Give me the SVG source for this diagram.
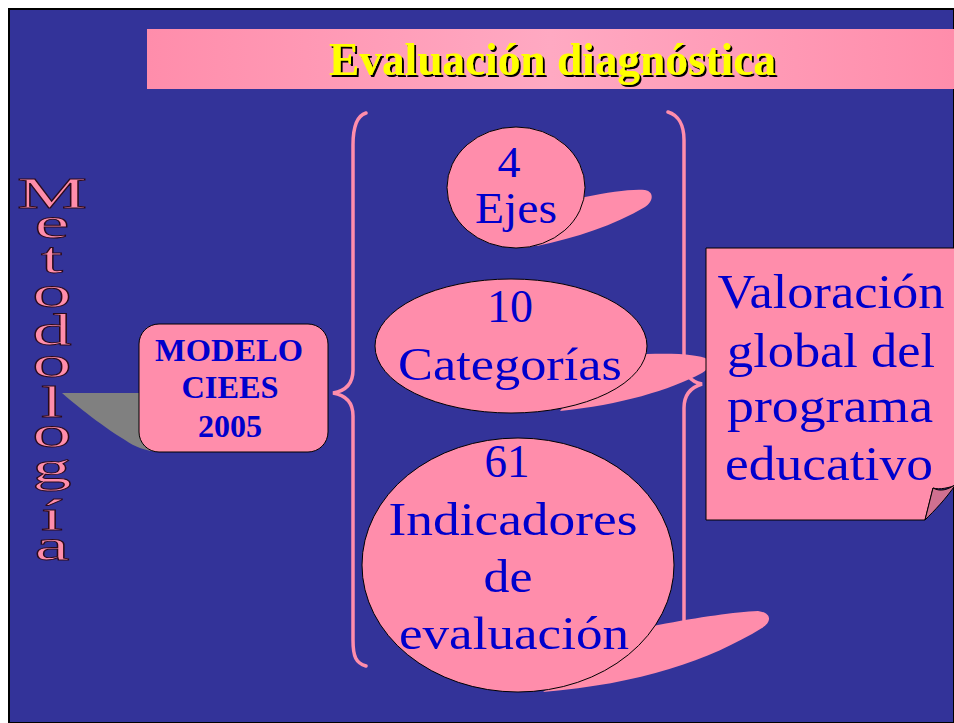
<svg xmlns="http://www.w3.org/2000/svg" width="954" height="723" viewBox="0 0 954 723">
<defs>
<linearGradient id="band" x1="0" y1="0" x2="1" y2="0">
<stop offset="0" stop-color="#FF8DAB"/>
<stop offset="0.5" stop-color="#FFA9C2"/>
<stop offset="1" stop-color="#FF8DAB"/>
</linearGradient>
<filter id="shadow" x="-5%" y="-20%" width="110%" height="140%">
<feOffset in="SourceAlpha" dx="2" dy="2" result="off"/>
<feMerge><feMergeNode in="off"/><feMergeNode in="SourceGraphic"/></feMerge>
</filter>
<style>
.node{fill:#FF8DAB;stroke:#000;stroke-width:1}
.tail{fill:#FF8DAB}
.big{font-family:"Liberation Serif","Times New Roman",serif;fill:#0000CC;text-anchor:middle}
.bold{font-family:"Liberation Serif","Times New Roman",serif;font-weight:bold;font-size:31px;fill:#0000CC;text-anchor:middle}
.brace{fill:none;stroke:#FF8DAB;stroke-width:3.5;stroke-linecap:round}
.meto{font-family:"Liberation Serif","Times New Roman",serif;font-size:45px;fill:#FF8DAB;stroke:#2a0a1a;stroke-width:0.9;text-anchor:middle}
</style>
</defs>
<rect x="0" y="0" width="954" height="723" fill="#fff"/>
<rect x="9" y="9" width="945" height="714" fill="#333399" stroke="#000" stroke-width="2"/>

<g id="title">
<rect x="147" y="29" width="807" height="60" fill="url(#band)"/>
<text x="329" y="75" font-family="Liberation Serif,serif" font-weight="bold" font-size="46" textLength="447" lengthAdjust="spacingAndGlyphs" fill="#FFFF00" filter="url(#shadow)">Evaluación diagnóstica</text>
</g>

<g id="metodologia" transform="translate(52,0) scale(1.75,1)">
<text class="meto" x="0" y="208">M</text>
<text class="meto" x="0" y="238">e</text>
<text class="meto" x="0" y="273">t</text>
<text class="meto" x="0" y="307">o</text>
<text class="meto" x="0" y="345">d</text>
<text class="meto" x="0" y="377">o</text>
<text class="meto" x="0" y="417">l</text>
<text class="meto" x="0" y="447">o</text>
<text class="meto" x="0" y="482">g</text>
<text class="meto" x="0" y="530">í</text>
<text class="meto" x="0" y="560">a</text>
</g>

<g id="connectors">
<path class="brace" d="M366,113 C356,116 353,128 353,145 L353,370 C353,385 345,391 333,393 C345,395 353,401 353,416 L353,640 C353,657 356,663 366,666"/>
<path class="brace" d="M668,112 C678,115 684,125 684,140 L684,360 C684,375 692,382 702,384 C692,387 684,393 684,408 L684,640 C684,655 678,662 668,666"/>
</g>

<g id="modelo">
<path d="M139,393 L62,393 C70,400 100,425 125,440 C135,447 145,451 160,452 Z" fill="#808080"/>
<rect x="139" y="324" width="189" height="128" rx="20" ry="20" class="node" stroke-width="1.3"/>
<text class="bold" x="229" y="361" textLength="148" lengthAdjust="spacingAndGlyphs">MODELO</text>
<text class="bold" x="230" y="398" textLength="97" lengthAdjust="spacingAndGlyphs">CIEES</text>
<text class="bold" x="230" y="437" textLength="64" lengthAdjust="spacingAndGlyphs">2005</text>
</g>

<g id="ejes">
<path class="tail" d="M560,200 L585,197 C610,192 630,189 645,190 C655,192 653,202 645,207 C615,225 575,238 537,246 Z"/>
<ellipse cx="516" cy="187.5" rx="69" ry="60.5" class="node"/>
<text class="big" x="509" y="177" font-size="44" textLength="23" lengthAdjust="spacingAndGlyphs">4</text>
<text class="big" x="516" y="223" font-size="44" textLength="82" lengthAdjust="spacingAndGlyphs">Ejes</text>
</g>

<g id="categorias">
<path class="tail" d="M600,360 L647,354 C680,353 700,355 707,359 C711,365 707,370 702,373 C670,390 620,405 560,411 Z"/>
<ellipse cx="511" cy="346" rx="136" ry="67" class="node"/>
<text class="big" x="510" y="322" font-size="47" textLength="46" lengthAdjust="spacingAndGlyphs">10</text>
<text class="big" x="510" y="380" font-size="47" textLength="224" lengthAdjust="spacingAndGlyphs">Categorías</text>
</g>

<g id="indicadores">
<path class="tail" d="M630,630 L658,625 C700,617 735,612 758,611 C772,613 772,622 762,628 C710,660 640,684 543,692 Z"/>
<ellipse cx="518" cy="565" rx="156" ry="127" class="node"/>
<text class="big" x="507" y="477" font-size="47" textLength="45" lengthAdjust="spacingAndGlyphs">61</text>
<text class="big" x="513" y="535" font-size="47" textLength="249" lengthAdjust="spacingAndGlyphs">Indicadores</text>
<text class="big" x="508" y="592" font-size="47" textLength="49" lengthAdjust="spacingAndGlyphs">de</text>
<text class="big" x="514" y="649" font-size="47" textLength="230" lengthAdjust="spacingAndGlyphs">evaluación</text>
</g>

<g id="valoracion">
<path d="M706,248 L960,248 L960,484 C948,488 940,490 933,488 L925,520 L706,520 Z" class="node"/>
<path d="M925,520 L933,488 C940,492 948,490 956,484 C945,500 935,510 925,520 Z" fill="#D07090" stroke="#000" stroke-width="1"/>
<text class="big" x="831" y="308" font-size="48" textLength="227" lengthAdjust="spacingAndGlyphs">Valoración</text>
<text class="big" x="831" y="367" font-size="48" textLength="208" lengthAdjust="spacingAndGlyphs">global del</text>
<text class="big" x="830" y="422" font-size="48" textLength="206" lengthAdjust="spacingAndGlyphs">programa</text>
<text class="big" x="829" y="480" font-size="48" textLength="208" lengthAdjust="spacingAndGlyphs">educativo</text>
</g>
</svg>
